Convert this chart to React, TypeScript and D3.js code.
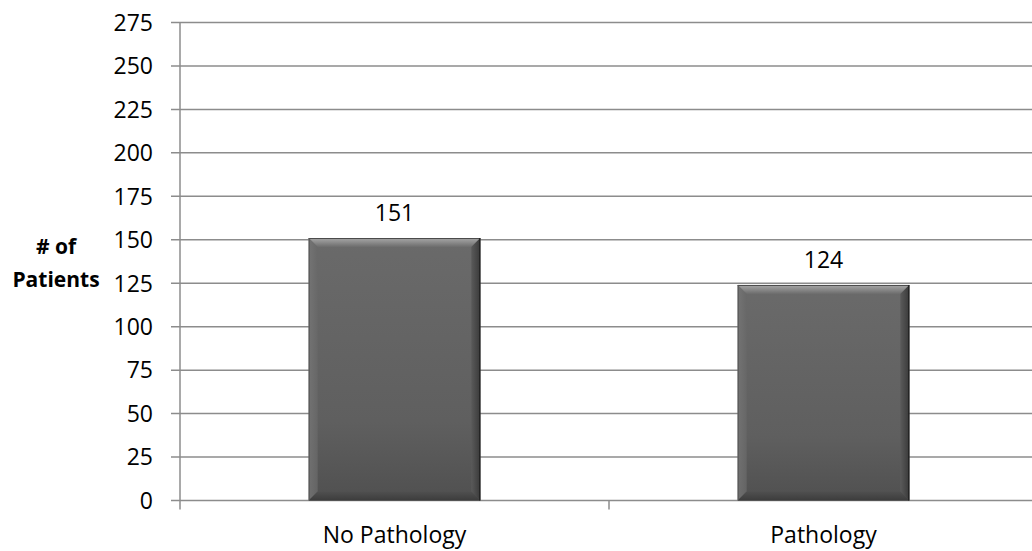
import React from "react";
import * as d3 from "d3";

const categories = ["No Pathology", "Pathology"];
const patients = [151, 124];
const yTicks = [0, 25, 50, 75, 100, 125, 150, 175, 200, 225, 250, 275];
const yTitle = ["# of", "Patients"];

const W = 1032;
const H = 551;
const FONT = "'Open Sans', sans-serif";

export default function App() {
  const x = d3
    .scaleBand<string>()
    .domain(categories)
    .range([180, 1038])
    .paddingInner(0.6)
    .paddingOuter(0.3);
  const y = d3.scaleLinear().domain([0, 275]).range([500.5, 22.5]);
  const bw = x.bandwidth();
  const b = 9;
  const step = x.step();
  const catTicks = categories.map((_, i) => 180 + step * i);

  return (
    <svg
      width={W}
      height={H}
      style={{ position: "absolute", left: 0, top: 0, background: "#fff" }}
      fontFamily={FONT}
    >
      <defs>
        <linearGradient id="barBody" x1="0" y1="0" x2="0" y2="1">
          <stop offset="0" stopColor="#6a6a6a" />
          <stop offset="0.7" stopColor="#5f5f5f" />
          <stop offset="1" stopColor="#505050" />
        </linearGradient>
        <linearGradient id="barTop" x1="0" y1="0" x2="0" y2="1">
          <stop offset="0" stopColor="#a8a8a8" />
          <stop offset="1" stopColor="#6c6c6c" />
        </linearGradient>
        <linearGradient id="barLeft" x1="0" y1="0" x2="1" y2="0">
          <stop offset="0" stopColor="#777" />
          <stop offset="1" stopColor="#686868" />
        </linearGradient>
        <linearGradient id="barRight" x1="0" y1="0" x2="1" y2="0">
          <stop offset="0" stopColor="#5a5a5a" />
          <stop offset="1" stopColor="#3a3a3a" />
        </linearGradient>
        <linearGradient id="barBottom" x1="0" y1="0" x2="0" y2="1">
          <stop offset="0" stopColor="#505050" />
          <stop offset="1" stopColor="#3c3c3c" />
        </linearGradient>
      </defs>

      {/* horizontal gridlines and y ticks */}
      {yTicks.map((t) => (
        <g key={t}>
          <line x1={171} x2={W} y1={y(t)} y2={y(t)} stroke="#8c8c8c" strokeWidth={1.5} />
          <text
            x={153}
            y={y(t)}
            dy="0.36em"
            textAnchor="end"
            fontSize={23}
            fill="#000"
          >
            {t}
          </text>
        </g>
      ))}

      {/* y axis */}
      <line x1={180} x2={180} y1={y(275)} y2={y(0)} stroke="#8c8c8c" strokeWidth={1.5} />

      {/* category ticks */}
      {catTicks.map((cx, i) => (
        <line key={i} x1={cx} x2={cx} y1={y(0)} y2={y(0) + 9} stroke="#8c8c8c" strokeWidth={1.5} />
      ))}

      {/* bars */}
      {categories.map((c, i) => {
        const x0 = x(c)!;
        const x1 = x0 + bw;
        const y0 = y(patients[i]);
        const y1 = y(0);
        return (
          <g key={c}>
            <rect x={x0} y={y0} width={bw} height={y1 - y0} fill="url(#barBody)" />
            <polygon
              points={`${x0},${y0} ${x1},${y0} ${x1 - b},${y0 + b} ${x0 + b},${y0 + b}`}
              fill="url(#barTop)"
            />
            <polygon
              points={`${x0},${y0} ${x0 + b},${y0 + b} ${x0 + b},${y1 - b} ${x0},${y1}`}
              fill="url(#barLeft)"
              opacity={0.8}
            />
            <polygon
              points={`${x1},${y0} ${x1 - b},${y0 + b} ${x1 - b},${y1 - b} ${x1},${y1}`}
              fill="url(#barRight)"
            />
            <polygon
              points={`${x0},${y1} ${x0 + b},${y1 - b} ${x1 - b},${y1 - b} ${x1},${y1}`}
              fill="url(#barBottom)"
            />
            <line x1={x0} x2={x1} y1={y0 + 0.5} y2={y0 + 0.5} stroke="#4a4a4a" strokeWidth={1} />
            <line x1={x1 - 0.5} x2={x1 - 0.5} y1={y0} y2={y1} stroke="#1e1e1e" strokeWidth={1.2} />
            <line x1={x0 + 0.5} x2={x0 + 0.5} y1={y0} y2={y1} stroke="#555" strokeWidth={1} />
            <text
              x={x0 + bw / 2}
              y={y0 - 25}
              dy="0.36em"
              textAnchor="middle"
              fontSize={23}
              fill="#000"
            >
              {patients[i]}
            </text>
            <text
              x={x0 + bw / 2}
              y={535}
              dy="0.36em"
              textAnchor="middle"
              fontSize={23}
              fill="#000"
            >
              {c}
            </text>
          </g>
        );
      })}

      {/* y axis title */}
      <text textAnchor="middle" fontSize={21} fontWeight="bold" fill="#000">
        <tspan x={56} y={254}>
          {yTitle[0]}
        </tspan>
        <tspan x={56} y={287}>
          {yTitle[1]}
        </tspan>
      </text>
    </svg>
  );
}
